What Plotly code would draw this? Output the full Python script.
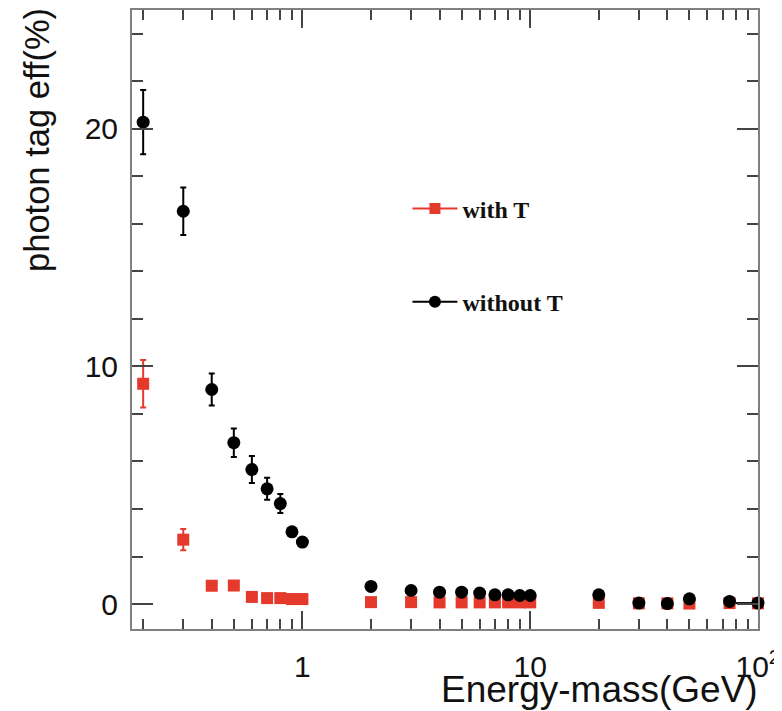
import plotly.graph_objects as go

# ---- data ----
energy = [0.2, 0.3, 0.4, 0.5, 0.6, 0.7, 0.8, 0.9, 1.0,
          2, 3, 4, 5, 6, 7, 8, 9, 10, 20, 30, 40, 50, 75, 100]

eff_without_T = [20.28, 16.53, 9.03, 6.79, 5.66, 4.85, 4.23, 3.04, 2.61,
                 0.74, 0.57, 0.50, 0.50, 0.46, 0.39, 0.39, 0.36, 0.36,
                 0.39, 0.04, 0.02, 0.22, 0.11, 0.04]
err_without_T = [1.35, 1.00, 0.67, 0.60, 0.57, 0.46, 0.40, 0.15, 0.10,
                 0.05, 0.05, 0.05, 0.05, 0.05, 0.05, 0.05, 0.05, 0.05,
                 0.05, 0.03, 0.03, 0.05, 0.03, 0.02]
xerr_minus_without_T = [0]*23 + [20]

eff_with_T = [9.27, 2.71, 0.77, 0.78, 0.30, 0.25, 0.25, 0.21, 0.21,
              0.08, 0.08, 0.07, 0.07, 0.07, 0.07, 0.07, 0.07, 0.07,
              0.05, 0.03, 0.03, 0.02, 0.04, 0.03]
err_with_T = [1.00, 0.45, 0.10, 0.10, 0.12, 0.05, 0.05, 0.05, 0.05,
              0.03, 0.03, 0.03, 0.03, 0.03, 0.03, 0.03, 0.03, 0.03,
              0.02, 0.02, 0.02, 0.02, 0.02, 0.02]

x_major_ticks = [1, 10, 100]
x_major_text = ["1", "10", "10<sup>2</sup>"]
x_minor_ticks = [0.2, 0.3, 0.4, 0.5, 0.6, 0.7, 0.8, 0.9,
                 2, 3, 4, 5, 6, 7, 8, 9,
                 20, 30, 40, 50, 60, 70, 80, 90]
y_major_ticks = [0, 10, 20]

series_names = ["with T", "without T"]

RED = "#e4392b"
BLACK = "#000000"
FRAME = "#808080"
TICK = "#444444"

fig = go.Figure()

fig.add_trace(go.Scatter(
    x=energy, y=eff_with_T, mode="markers",
    marker=dict(symbol="square", size=12, color=RED),
    error_y=dict(type="data", array=err_with_T, color=RED, thickness=2, width=3),
    showlegend=False, cliponaxis=False,
))
fig.add_trace(go.Scatter(
    x=energy, y=eff_without_T, mode="markers",
    marker=dict(symbol="circle", size=13, color=BLACK),
    error_y=dict(type="data", array=err_without_T, color=BLACK, thickness=2, width=3),
    error_x=dict(type="data", symmetric=False, array=[0]*len(energy),
                 arrayminus=xerr_minus_without_T, color=BLACK, thickness=2, width=0),
    showlegend=False, cliponaxis=False,
))

# legend entries (line + marker glyph, ROOT style)
fig.add_trace(go.Scatter(
    x=[None], y=[None], mode="lines+markers", name=series_names[0],
    line=dict(color=RED, width=2),
    marker=dict(symbol="square", size=11, color=RED),
    legendgroup="a",
))
fig.add_trace(go.Scatter(
    x=[None], y=[None], mode="lines+markers", name=series_names[1],
    line=dict(color=BLACK, width=2),
    marker=dict(symbol="circle", size=12, color=BLACK),
    legendgroup="b",
))

fig.update_layout(
    width=774, height=703,
    margin=dict(l=124, r=24, t=2, b=82, autoexpand=False),
    paper_bgcolor="white", plot_bgcolor="white",
    font=dict(family="Liberation Sans, Arial, sans-serif", color="#111111"),
    showlegend=True,
    legend=dict(
        x=0.44, y=0.715, xanchor="left", yanchor="top",
        bgcolor="rgba(0,0,0,0)", borderwidth=0,
        font=dict(family="Liberation Serif, Times New Roman, serif", size=24,
                  color="#111111", weight="bold"),
        traceorder="grouped", tracegroupgap=59, itemwidth=45,
    ),
    xaxis=dict(
        type="log", range=[-0.748, 2.0], automargin=False,
        tickmode="array", tickvals=x_major_ticks, ticktext=x_major_text,
        ticks="inside", ticklen=18, tickwidth=2, tickcolor=TICK,
        minor=dict(tickmode="array", tickvals=x_minor_ticks, ticks="inside",
                   ticklen=10, tickwidth=2, tickcolor=TICK, showgrid=False),
        showline=True, linecolor=FRAME, linewidth=2, mirror="ticks",
        showgrid=False, zeroline=False,
        tickfont=dict(size=30, family="Liberation Sans, Arial, sans-serif", color="#111111"),
        ticklabelstandoff=10,
    ),
    yaxis=dict(
        range=[-1.05, 25], automargin=False,
        tickmode="array", tickvals=y_major_ticks,
        ticks="inside", ticklen=21, tickwidth=2, tickcolor=TICK,
        minor=dict(dtick=2, tick0=0, ticks="inside", ticklen=11, tickwidth=2,
                   tickcolor=TICK, showgrid=False),
        showline=True, linecolor=FRAME, linewidth=2, mirror="ticks",
        showgrid=False, zeroline=False,
        tickfont=dict(size=30, family="Liberation Sans, Arial, sans-serif", color="#111111"),
        ticklabelstandoff=6,
    ),
    annotations=[
        dict(text="photon tag eff(%)", textangle=-90, showarrow=False,
             xref="paper", yref="paper", x=-0.1518, y=0.79,
             xanchor="center", yanchor="middle",
             font=dict(size=34.5, family="Liberation Sans, Arial, sans-serif", color="#111111")),
        dict(text="Energy-mass(GeV)", showarrow=False,
             xref="paper", yref="paper", x=1.003, y=-0.098,
             xanchor="right", yanchor="middle",
             font=dict(size=37, family="Liberation Sans, Arial, sans-serif", color="#111111")),
    ],
)

fig.write_html("out.html")
